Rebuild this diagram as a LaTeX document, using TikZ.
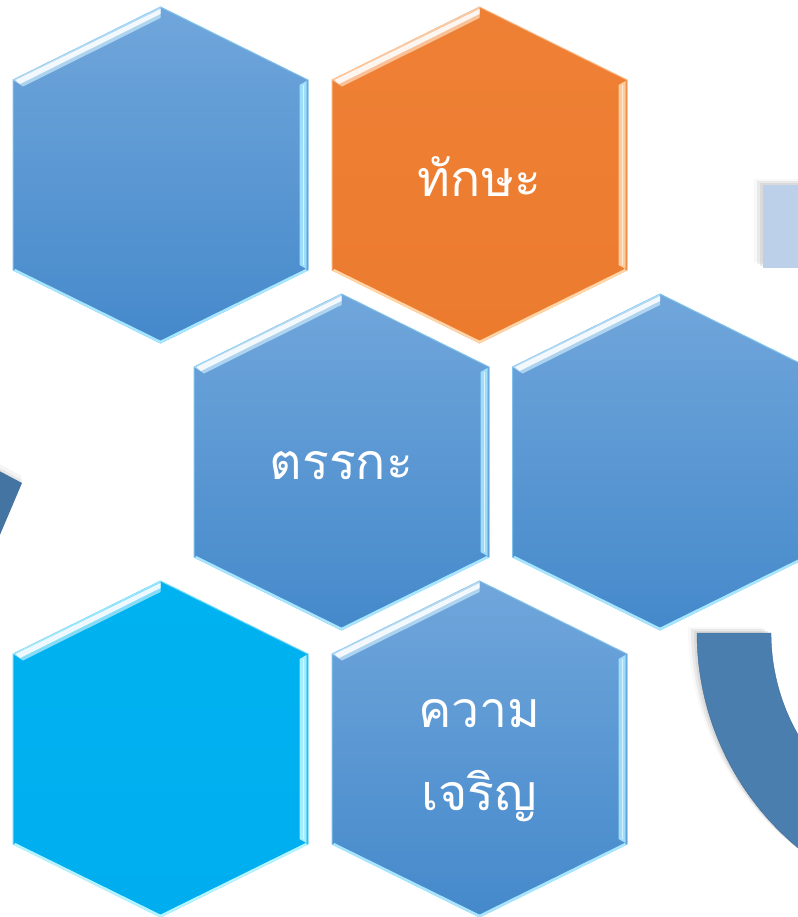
\documentclass[tikz,border=0pt]{standalone}
\usepackage{fontspec}
\newfontfamily\thaifont[Script=Thai]{Loma}
\usetikzlibrary{shadows,calc}

\definecolor{hexTop}{HTML}{70A6DB}
\definecolor{hexBot}{HTML}{4589CB}
\definecolor{hexEdge}{HTML}{A6E6FF}
\definecolor{orTop}{HTML}{EE8035}
\definecolor{orBot}{HTML}{EC7B2E}
\definecolor{orEdge}{HTML}{FFD5A8}
\definecolor{cyTop}{HTML}{00B2F0}
\definecolor{cyBot}{HTML}{00AEEF}
\definecolor{cyEdge}{HTML}{B5F4FF}
\definecolor{arcBlue}{HTML}{4A7EAF}
\definecolor{boxBlue}{HTML}{BDD0EA}

% one bevelled hexagon: centre x, centre y, top colour, bottom colour, bevel colour
\newcommand{\hexcell}[5]{%
  \begin{scope}[shift={(#1,#2)}]
    \shade[top color=#3,bottom color=#4,draw=#5!60!#4,line width=1pt]
      (0,-168)--(147.5,-95)--(147.5,95)--(0,168)--(-147.5,95)--(-147.5,-95)--cycle;
    \fill[#5!40!white,opacity=.6](-147.5,-95)--(0,-168)--(0,-157)--(-137.5,-88.5)--cycle;
    \fill[white,opacity=.85](-145,-95)--(0,-166)--(0,-161)--(-140.5,-91)--cycle;
    \fill[#5,opacity=.9](146,-94)--(146,94)--(139,90)--(139,-90)--cycle;
    \draw[white,opacity=.6,line width=1.5pt](143,-90)--(143,90);
    \draw[#5,line width=2.5pt](-146,95)--(0,167)--(146,95);
  \end{scope}}

\tikzset{
  hexlabel/.style={text=white,font=\thaifont\fontsize{50}{83}\selectfont,align=center},
  softshadow/.style={drop shadow={shadow xshift=-3pt,shadow yshift=2pt,opacity=.15},
                     drop shadow={shadow xshift=-6pt,shadow yshift=4pt,opacity=.12},
                     drop shadow={shadow xshift=-9pt,shadow yshift=6pt,opacity=.06}},
}

\begin{document}
\begin{tikzpicture}[x=1pt,y=-1pt]
        \useasboundingbox (0,0) rectangle (797,917);
        % pieces behind
        \fill[boxBlue,softshadow](763,185) rectangle (815,268);
        \fill[arcBlue,draw=arcBlue!85!black,softshadow]
            (697,633) arc[start angle=180,end angle=120,radius=279]
            -- ($(976,633)+(120:205)$) arc[start angle=120,end angle=180,radius=205] -- cycle;
        \fill[arcBlue!92!black,drop shadow={shadow xshift=0pt,shadow yshift=3pt,opacity=.12},
            drop shadow={shadow xshift=0pt,shadow yshift=7pt,opacity=.08}]
            (-12,465)--(22,483)--(-12,563)--cycle;
        % hexagons
        \hexcell{160.5}{175}{hexTop}{hexBot}{hexEdge}
        \hexcell{479.5}{175}{orTop}{orBot}{orEdge}
        \hexcell{341.5}{462}{hexTop}{hexBot}{hexEdge}
        \hexcell{660}{462}{hexTop}{hexBot}{hexEdge}
        \hexcell{160.5}{749}{cyTop}{cyBot}{cyEdge}
        \hexcell{479.5}{749}{hexTop}{hexBot}{hexEdge}
        \node[hexlabel] (skill) at (479.5,177) {ทักษะ};
        \node[hexlabel] (logic) at (341.5,466) {ตรรกะ};
        \node[hexlabel] (growth) at (479.5,761) {ความ\\เจริญ};
\end{tikzpicture}
\end{document}
